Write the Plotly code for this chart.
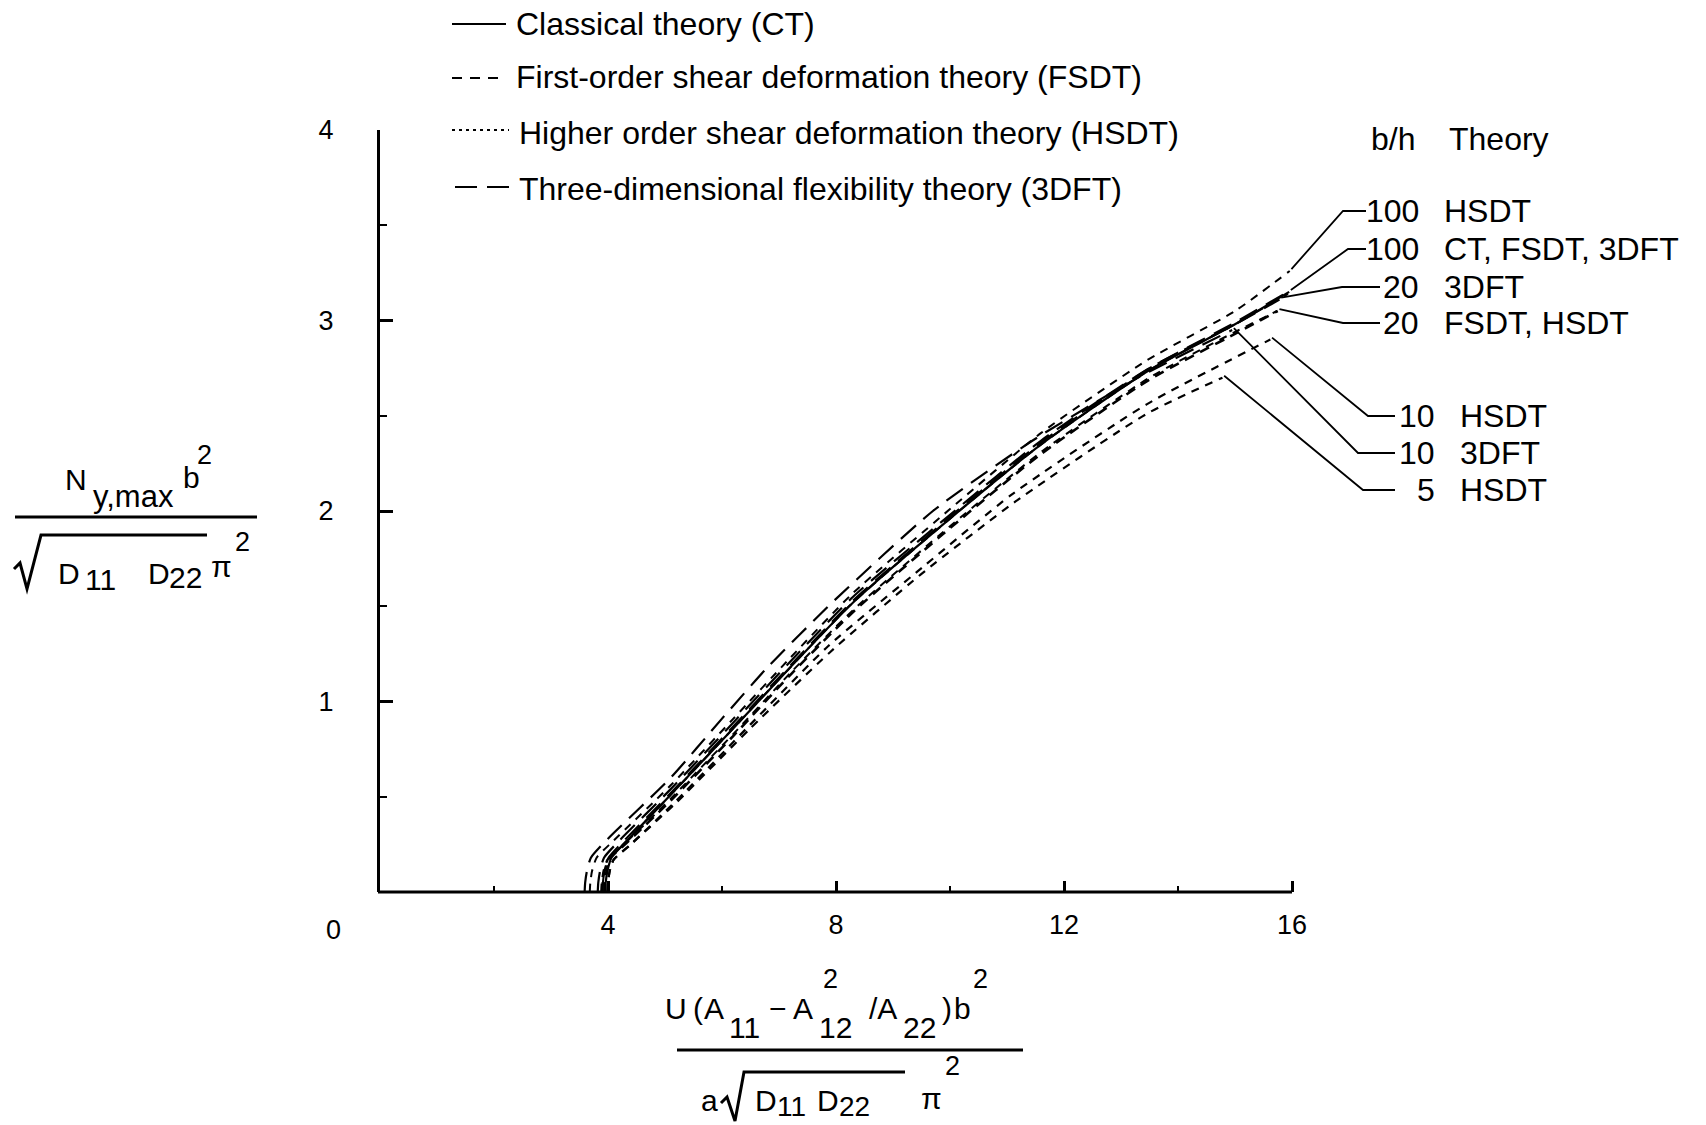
import plotly.graph_objects as go

# ---------------- data ----------------
ct_x = [3.95, 3.96, 3.99, 4.06, 4.30, 5.10, 6.20, 7.20, 8.30, 10.0, 11.6, 13.5, 15.0, 15.95]
ct_y = [0.00, 0.05, 0.11, 0.18, 0.26, 0.51, 0.86, 1.18, 1.52, 1.96, 2.35, 2.74, 2.98, 3.15]

fsdt100_x = [3.93, 3.94, 3.97, 4.04, 4.30, 5.10, 6.20, 7.20, 8.30, 10.0, 11.6, 13.5, 15.0, 15.93]
fsdt100_y = [0.00, 0.05, 0.11, 0.18, 0.26, 0.51, 0.86, 1.18, 1.52, 1.96, 2.35, 2.74, 2.98, 3.14]

dft100_x = [3.90, 3.91, 3.94, 4.01, 4.25, 5.10, 6.20, 7.20, 8.30, 10.0, 11.6, 13.5, 15.0, 15.92]
dft100_y = [0.00, 0.05, 0.11, 0.18, 0.26, 0.52, 0.87, 1.19, 1.53, 1.97, 2.36, 2.75, 2.99, 3.15]

hsdt100_x = [3.68, 3.69, 3.72, 3.80, 4.10, 5.10, 6.20, 7.20, 8.30, 10.0, 11.6, 13.45, 15.0, 15.96]
hsdt100_y = [0.00, 0.05, 0.11, 0.18, 0.27, 0.56, 0.91, 1.23, 1.57, 2.01, 2.41, 2.79, 3.05, 3.26]

dft20_x = [3.82, 3.83, 3.86, 3.93, 4.20, 5.10, 6.20, 7.20, 8.30, 10.0, 11.6, 13.5, 15.0, 15.78]
dft20_y = [0.00, 0.05, 0.11, 0.18, 0.27, 0.54, 0.89, 1.21, 1.55, 1.98, 2.37, 2.75, 2.98, 3.11]

fsdt20_x = [3.90, 3.91, 3.94, 4.01, 4.30, 5.10, 6.20, 7.20, 8.30, 10.0, 11.6, 13.5, 15.0, 15.75]
fsdt20_y = [0.00, 0.05, 0.11, 0.17, 0.25, 0.48, 0.82, 1.14, 1.47, 1.91, 2.30, 2.69, 2.93, 3.05]

hsdt20_x = [3.88, 3.89, 3.92, 3.99, 4.28, 5.10, 6.20, 7.20, 8.30, 10.0, 11.6, 13.5, 15.0, 15.74]
hsdt20_y = [0.00, 0.05, 0.11, 0.17, 0.25, 0.49, 0.83, 1.15, 1.48, 1.92, 2.31, 2.70, 2.94, 3.05]

dft10_x = [3.59, 3.60, 3.63, 3.70, 4.00, 5.10, 6.00, 6.80, 7.97, 9.70, 11.45, 13.3, 14.95]
dft10_y = [0.00, 0.05, 0.11, 0.18, 0.28, 0.60, 0.91, 1.18, 1.53, 2.00, 2.37, 2.70, 2.95]

hsdt10_x = [3.99, 4.00, 4.03, 4.10, 4.40, 5.20, 6.50, 7.86, 9.50, 11.1, 13.45, 15.62]
hsdt10_y = [0.00, 0.05, 0.11, 0.17, 0.25, 0.48, 0.88, 1.29, 1.70, 2.09, 2.56, 2.90]

hsdt5_x = [3.99, 4.00, 4.03, 4.10, 4.40, 5.20, 6.50, 7.90, 9.50, 11.15, 13.45, 14.78]
hsdt5_y = [0.00, 0.05, 0.11, 0.17, 0.25, 0.47, 0.86, 1.26, 1.67, 2.05, 2.51, 2.70]

x_tick_vals = [4, 8, 12, 16]
x_minor_vals = [2, 6, 10, 14]
y_tick_vals = [1, 2, 3, 4]
y_minor_vals = [0.5, 1.5, 2.5, 3.5]

legend_labels = ["Classical theory (CT)",
                 "First-order shear deformation theory (FSDT)",
                 "Higher order shear deformation theory (HSDT)",
                 "Three-dimensional flexibility theory (3DFT)"]

row_bh = ["100", "100", "20", "20", "10", "10", "5"]
row_theory = ["HSDT", "CT, FSDT, 3DFT", "3DFT", "FSDT, HSDT", "HSDT", "3DFT", "HSDT"]

# ---------------- layout geometry ----------------
W, H = 1706, 1125
ML, MR, MT, MB = 380, 6, 130, 233
PW, PH = W - ML - MR, H - MT - MB
XPX = 57.0
XMAX = PW / XPX
YMAX = 4.0
FONT = "Liberation Sans, Arial, Helvetica, sans-serif"


def pxp(xp):  # pixel -> paper x
    return (xp - ML) / PW


def pyp(yp):  # pixel -> paper y
    return (H - MB - yp) / PH


def dx(xp):  # pixel -> data x
    return (xp - ML) / XPX


def dy(yp):  # pixel -> data y
    return (H - MB - yp) / PH * YMAX


def ppath(points):
    return "M " + " L ".join(f"{pxp(a):.5f},{pyp(b):.5f}" for a, b in points)


SOLID = "solid"
FS = "10px,7px"
HS = "8px,7px"
DF = "20px,10px"

series = [
    (ct_x, ct_y, SOLID, 2.2),
    (fsdt100_x, fsdt100_y, FS, 2.0),
    (dft100_x, dft100_y, DF, 2.0),
    (hsdt100_x, hsdt100_y, HS, 2.0),
    (dft20_x, dft20_y, DF, 2.2),
    (fsdt20_x, fsdt20_y, FS, 2.6),
    (hsdt20_x, hsdt20_y, HS, 2.0),
    (dft10_x, dft10_y, DF, 2.2),
    (hsdt10_x, hsdt10_y, HS, 2.2),
    (hsdt5_x, hsdt5_y, HS, 2.2),
]

fig = go.Figure()
for xs, ys, dash, w in series:
    fig.add_trace(go.Scatter(x=xs, y=ys, mode="lines",
                             line=dict(color="black", width=w, dash=dash,
                                       shape="spline", smoothing=0.6),
                             showlegend=False, hoverinfo="skip"))

# leader lines from curve ends to the labels
row_src = [(hsdt100_x, hsdt100_y), (ct_x, ct_y), (dft20_x, dft20_y),
           (fsdt20_x, fsdt20_y), (hsdt10_x, hsdt10_y), (dft10_x, dft10_y),
           (hsdt5_x, hsdt5_y)]
row_elbow_px = [(1343, 211), (1348, 249), (1342, 287), (1343, 323),
                (1368, 416), (1358, 453), (1363, 490)]
row_hend_px = [1366, 1366, 1380, 1380, 1395, 1395, 1395]
row_num_right_px = [1420, 1420, 1420, 1420, 1436, 1436, 1436]
row_text_left_px = [1443, 1443, 1443, 1443, 1459, 1459, 1459]
LBL = 32

annotations = []
for i, (sx, sy) in enumerate(row_src):
    ex, ey = row_elbow_px[i]
    fig.add_trace(go.Scatter(
        x=[sx[-1] + 0.03, dx(ex), dx(row_hend_px[i])],
        y=[sy[-1] + 0.01, dy(ey), dy(ey)],
        mode="lines", line=dict(color="black", width=1.8),
        showlegend=False, hoverinfo="skip"))
    annotations.append(dict(x=pxp(row_num_right_px[i]), y=pyp(ey), xref="paper", yref="paper",
                            text=row_bh[i], showarrow=False, xanchor="right", yanchor="middle",
                            borderpad=0, font=dict(size=LBL)))
    annotations.append(dict(x=pxp(row_text_left_px[i]), y=pyp(ey), xref="paper", yref="paper",
                            text=row_theory[i], showarrow=False, xanchor="left", yanchor="middle",
                            borderpad=0, font=dict(size=LBL)))

annotations.append(dict(x=pxp(1417), y=pyp(139), xref="paper", yref="paper", text="b/h",
                        showarrow=False, xanchor="right", yanchor="middle", font=dict(size=LBL)))
annotations.append(dict(x=pxp(1447), y=pyp(139), xref="paper", yref="paper", text="Theory",
                        showarrow=False, xanchor="left", yanchor="middle", font=dict(size=LBL)))

# origin label
annotations.append(dict(x=pxp(333), y=pyp(930), xref="paper", yref="paper", text="0",
                        showarrow=False, xanchor="center", yanchor="middle", font=dict(size=27)))

shapes = []
# x axis line (only up to 16)
shapes.append(dict(type="line", xref="paper", yref="paper", x0=pxp(378), x1=16 / XMAX,
                   y0=0, y1=0, line=dict(color="black", width=3)))

# legend (manual)
leg_y_px = [24, 78, 130, 187]
leg_text_y_px = [24, 77, 133, 189]
leg_dash = [SOLID, "10px,8px", "3px,4px", "22px,10px"]
leg_x0 = [452, 452, 452, 455]
leg_x1 = [506, 503, 509, 511]
leg_text_x = [514, 514, 517, 517]
for i, lab in enumerate(legend_labels):
    shapes.append(dict(type="line", xref="paper", yref="paper",
                       x0=pxp(leg_x0[i]), x1=pxp(leg_x1[i]), y0=pyp(leg_y_px[i]), y1=pyp(leg_y_px[i]),
                       line=dict(color="black", width=2.2, dash=leg_dash[i])))
    annotations.append(dict(x=pxp(leg_text_x[i]), y=pyp(leg_text_y_px[i]), xref="paper", yref="paper",
                            text=lab, showarrow=False, xanchor="left", yanchor="middle",
                            font=dict(size=32)))


def piece(text, xl, yc, size=30):
    annotations.append(dict(x=pxp(xl), y=pyp(yc), xref="paper", yref="paper", text=text,
                            showarrow=False, xanchor="left", yanchor="middle",
                            borderpad=0, font=dict(size=size)))


# y-axis title (fraction)
piece("N", 64, 479)
piece("y,max", 92, 497, 31)
piece("b", 182, 477)
piece("2", 196, 455, 27)
shapes.append(dict(type="line", xref="paper", yref="paper", x0=pxp(15), x1=pxp(257),
                   y0=pyp(517), y1=pyp(517), line=dict(color="black", width=3)))
shapes.append(dict(type="path", xref="paper", yref="paper",
                   path=ppath([(14, 569), (20, 563), (27, 589), (41, 535), (207, 535)]),
                   line=dict(color="black", width=3)))
piece("D", 57, 573)
piece("11", 84, 579, 30)
piece("D", 147, 573)
piece("22", 168, 577, 30)
piece("π", 210, 566)
piece("2", 234, 542, 27)

# x-axis title (fraction)
piece("U", 664, 1008)
piece("(", 692, 1008)
piece("A", 703, 1008)
piece("11", 728, 1027, 30)
piece("−", 768, 1008)
piece("A", 792, 1008)
piece("2", 822, 979, 27)
piece("12", 818, 1027, 30)
piece("/A", 868, 1008)
piece("22", 902, 1027, 30)
piece(")", 941, 1008)
piece("b", 953, 1008)
piece("2", 972, 979, 27)
shapes.append(dict(type="line", xref="paper", yref="paper", x0=pxp(677), x1=pxp(1023),
                   y0=pyp(1050), y1=pyp(1050), line=dict(color="black", width=3)))
piece("a", 700, 1100)
shapes.append(dict(type="path", xref="paper", yref="paper",
                   path=ppath([(721, 1103), (727, 1097), (735, 1121), (744, 1072), (905, 1072)]),
                   line=dict(color="black", width=3)))
piece("D", 754, 1100)
piece("11", 776, 1106, 28)
piece("D", 816, 1100)
piece("22", 838, 1106, 28)
piece("π", 920, 1098)
piece("2", 944, 1066, 27)

fig.update_layout(
    width=W, height=H,
    margin=dict(l=ML, r=MR, t=MT, b=MB, pad=0),
    paper_bgcolor="white", plot_bgcolor="white",
    font=dict(family=FONT, color="black", size=30),
    showlegend=False,
    xaxis=dict(range=[0, XMAX], showline=False, showgrid=False, zeroline=False,
               tickmode="array", tickvals=x_tick_vals, ticks="inside", ticklen=11,
               tickwidth=2.5, tickcolor="black", tickfont=dict(size=27),
               ticklabelstandoff=14,
               minor=dict(tickmode="array", tickvals=x_minor_vals, ticks="inside",
                          ticklen=6, tickwidth=2, tickcolor="black")),
    yaxis=dict(range=[0, YMAX], showline=True, linecolor="black", linewidth=3, mirror=False,
               showgrid=False, zeroline=False,
               tickmode="array", tickvals=y_tick_vals, ticks="inside", ticklen=13,
               tickwidth=2.5, tickcolor="black", tickfont=dict(size=27),
               ticklabelstandoff=38,
               minor=dict(tickmode="array", tickvals=y_minor_vals, ticks="inside",
                          ticklen=7, tickwidth=2, tickcolor="black")),
    annotations=annotations,
    shapes=shapes,
)

fig.write_html("out.html")
